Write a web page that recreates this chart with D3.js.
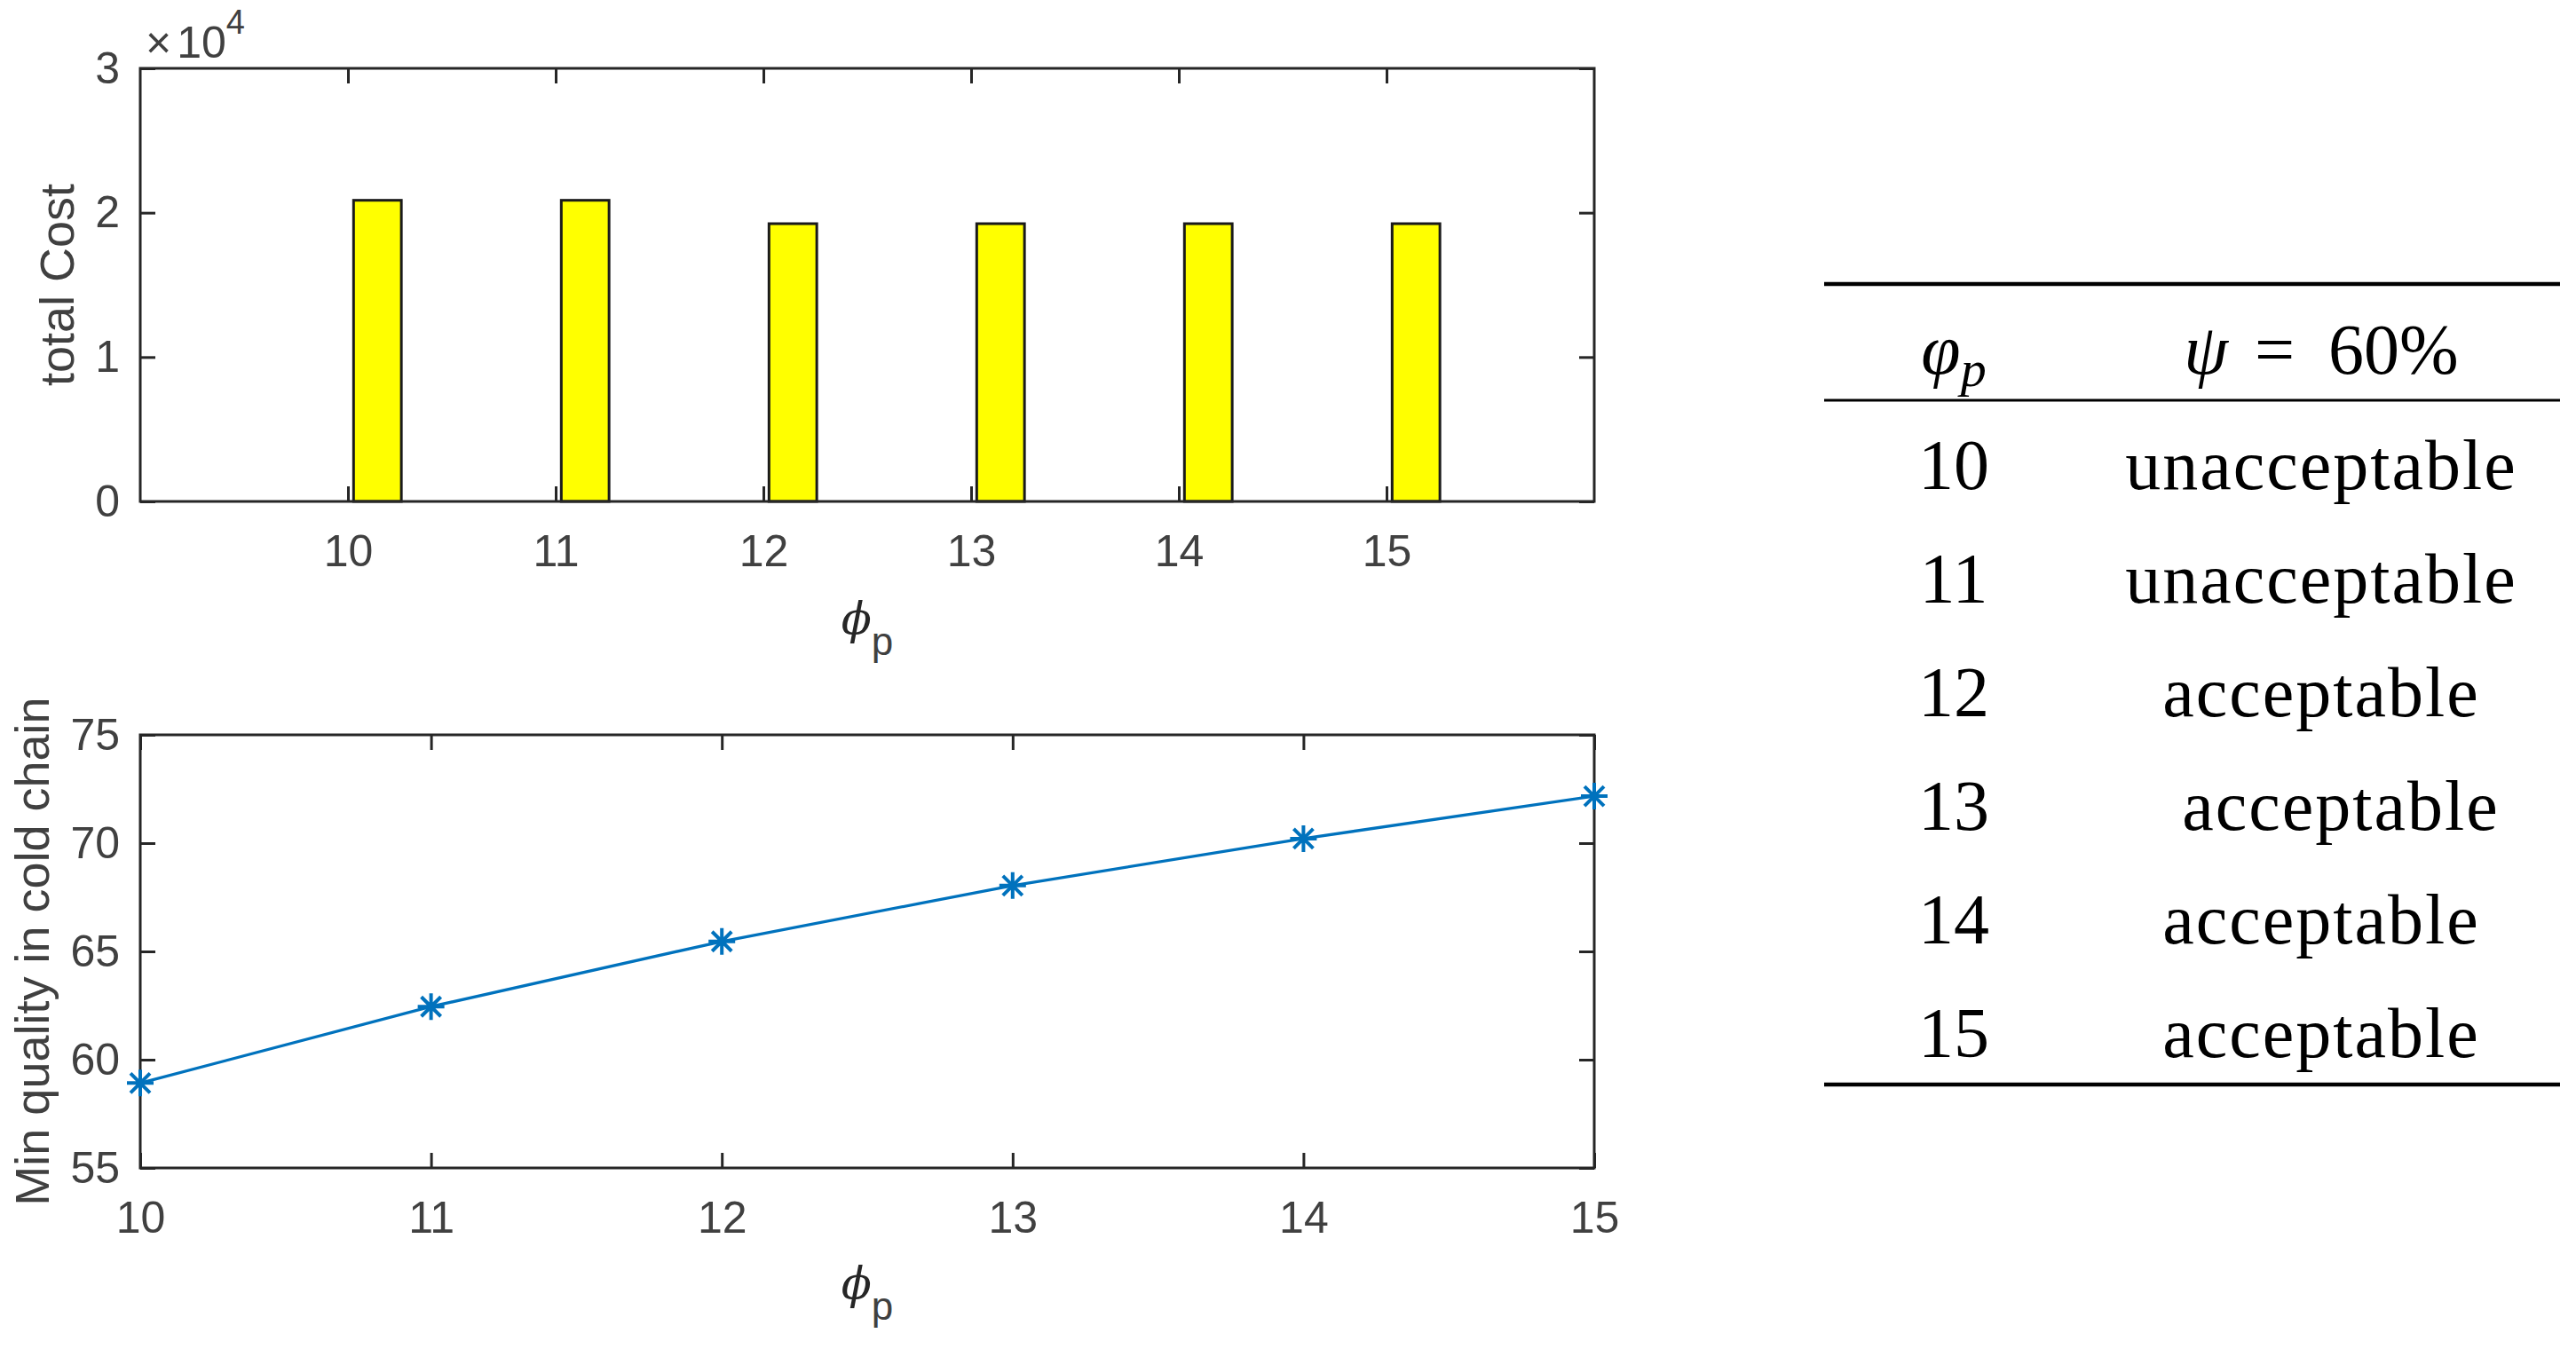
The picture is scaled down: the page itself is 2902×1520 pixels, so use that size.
<!DOCTYPE html>
<html>
<head>
<meta charset="utf-8">
<script src="https://cdn.jsdelivr.net/npm/d3@7"></script>
<style>
  body { margin: 0; background: #fff; }
  svg { display: block; }
  text { white-space: pre; }
</style>
</head>
<body>
<script>
// values
const phiP = [10, 11, 12, 13, 14, 15];
const totalCost = [20860, 20860, 19240, 19240, 19240, 19240];
const minQuality = [58.92, 62.45, 65.46, 68.04, 70.21, 72.17];
const costTicks = [0, 10000, 20000, 30000];
const qualityTicks = [55, 60, 65, 70, 75];
const verdicts = ["unacceptable", "unacceptable", "acceptable", "  acceptable", "acceptable", "acceptable"];

const W = 2902, H = 1520;
const axisColor = "#262626", labelColor = "#404040", blue = "#0072BD";
const sans = "'Liberation Sans', Arial, Helvetica, sans-serif";
const serif = "'Liberation Serif', 'Times New Roman', serif";
const tickLen = 17;
// bar placement inside each unit (matlab grouped bar look)
const barStart = 0.027, barW = 0.23;

const svg = d3.select("body").append("svg")
  .attr("width", W)
  .attr("height", H);

// box with inward ticks on all four sides, labels on bottom/left
function drawBox(g, x, y, yTicks, yFormat) {
  const [x0, x1] = x.range(), [y0, y1] = y.range();
  g.append("g").attr("transform", `translate(0,${y0})`)
    .call(d3.axisBottom(x).tickValues(phiP).tickFormat(d3.format("d"))
      .tickSizeInner(-tickLen).tickSizeOuter(0).tickPadding(37));
  g.append("g").attr("transform", `translate(0,${y1})`)
    .call(d3.axisTop(x).tickValues(phiP).tickFormat("")
      .tickSizeInner(-tickLen).tickSizeOuter(0));
  g.append("g").attr("transform", `translate(${x0},0)`)
    .call(d3.axisLeft(y).tickValues(yTicks).tickFormat(yFormat)
      .tickSizeInner(-tickLen).tickSizeOuter(0).tickPadding(23));
  g.append("g").attr("transform", `translate(${x1},0)`)
    .call(d3.axisRight(y).tickValues(yTicks).tickFormat("")
      .tickSizeInner(-tickLen).tickSizeOuter(0));
  g.selectAll(".domain").remove();
  g.selectAll(".tick line").attr("stroke", axisColor).attr("stroke-width", 3);
  g.selectAll(".tick text")
    .attr("fill", labelColor)
    .attr("font-size", 50)
    .attr("font-family", sans);
  g.append("rect")
    .attr("x", x0).attr("y", y1)
    .attr("width", x1 - x0).attr("height", y0 - y1)
    .attr("fill", "none")
    .attr("stroke", axisColor)
    .attr("stroke-width", 3);
}

function xLabel(g, cx, baseY) {
  const t = g.append("text")
    .attr("x", cx).attr("y", baseY)
    .attr("text-anchor", "middle");
  t.append("tspan")
    .attr("font-family", "'DejaVu Serif', serif")
    .attr("font-style", "italic")
    .attr("font-size", 50)
    .attr("fill", axisColor)
    .text("\u03D5");
  t.append("tspan")
    .attr("font-family", sans)
    .attr("font-size", 44)
    .attr("fill", labelColor)
    .attr("dy", 24)
    .text("p");
}

function yLabel(g, baseX, cy, label) {
  g.append("text")
    .attr("transform", `translate(${baseX},${cy}) rotate(-90)`)
    .attr("text-anchor", "middle")
    .attr("font-family", sans)
    .attr("font-size", 54)
    .attr("fill", labelColor)
    .text(label);
}

// ---- top panel: total cost bars
const x1 = d3.scaleLinear().domain([9, 16]).range([158, 1796]);
const y1 = d3.scaleLinear().domain([0, 30000]).range([565, 77]);
const g1 = svg.append("g");

g1.selectAll("rect.bar")
  .data(phiP.map((p, i) => ({p, v: totalCost[i]})))
  .join("rect")
  .attr("class", "bar")
  .attr("x", d => x1(d.p + barStart))
  .attr("width", x1(barW) - x1(0))
  .attr("y", d => y1(d.v))
  .attr("height", d => y1(0) - y1(d.v))
  .attr("fill", "#ffff00")
  .attr("stroke", "#1a1a1a")
  .attr("stroke-width", 3);

drawBox(g1, x1, y1, costTicks, d => d / 1e4);

const mult = g1.append("text")
  .attr("x", 164).attr("y", 65)
  .attr("font-family", sans)
  .attr("font-size", 50)
  .attr("fill", labelColor);
mult.append("tspan").text("\u00D7");
mult.append("tspan").attr("dx", 6).text("10");
mult.append("tspan").attr("font-size", 38).attr("dy", -27).text("4");

xLabel(g1, 977, 714);
yLabel(g1, 83, 321, "total Cost");

// ---- bottom panel: min quality line
const x2 = d3.scaleLinear().domain([10, 15]).range([158, 1796]);
const y2 = d3.scaleLinear().domain([55, 75]).range([1316, 828]);
const g2 = svg.append("g");

drawBox(g2, x2, y2, qualityTicks, d3.format("d"));

const pts = phiP.map((p, i) => [p, minQuality[i]]);
g2.append("path")
  .datum(pts)
  .attr("d", d3.line().x(d => x2(d[0])).y(d => y2(d[1])))
  .attr("fill", "none")
  .attr("stroke", blue)
  .attr("stroke-width", 3.3);

g2.selectAll("path.star")
  .data(pts)
  .join("path")
  .attr("class", "star")
  .attr("transform", d => `translate(${x2(d[0])},${y2(d[1])})`)
  .attr("d", "M-15,0H15M0,-15V15M-11,-11L11,11M-11,11L11,-11")
  .attr("stroke", blue)
  .attr("stroke-width", 4)
  .attr("fill", "none");

xLabel(g2, 977, 1463);
yLabel(g2, 55, 1072, "Min quality in cold chain");

// ---- table on the right
const tab = svg.append("g").attr("font-family", serif).attr("fill", "#000");
const col1 = 2201, col2 = 2615;
const rowY = d3.scalePoint().domain(phiP).range([551, 1191]);

tab.append("line").attr("x1", 2055).attr("x2", 2884).attr("y1", 320).attr("y2", 320)
  .attr("stroke", "#000").attr("stroke-width", 4.5);
tab.append("line").attr("x1", 2055).attr("x2", 2884).attr("y1", 451).attr("y2", 451)
  .attr("stroke", "#000").attr("stroke-width", 3);
tab.append("line").attr("x1", 2055).attr("x2", 2884).attr("y1", 1222).attr("y2", 1222)
  .attr("stroke", "#000").attr("stroke-width", 4.5);

const h1 = tab.append("text")
  .attr("x", col1).attr("y", 421)
  .attr("text-anchor", "middle")
  .attr("font-size", 80);
h1.append("tspan").attr("font-style", "italic").text("\u03C6");
h1.append("tspan").attr("font-style", "italic").attr("font-size", 58).attr("dy", 14).text("p");

const h2 = tab.append("text")
  .attr("x", col2).attr("y", 421)
  .attr("text-anchor", "middle")
  .attr("font-size", 80);
h2.append("tspan").attr("font-style", "italic").text("\u03C8");
h2.append("tspan").attr("dx", 30).text("=");
h2.append("tspan").attr("dx", 38).text("60%");

tab.selectAll("text.num")
  .data(phiP)
  .join("text")
  .attr("class", "num")
  .attr("x", col1)
  .attr("y", d => rowY(d))
  .attr("text-anchor", "middle")
  .attr("font-size", 80)
  .text(d => d);

tab.selectAll("text.verdict")
  .data(phiP.map((p, i) => ({p, s: verdicts[i]})))
  .join("text")
  .attr("class", "verdict")
  .attr("x", col2)
  .attr("y", d => rowY(d.p))
  .attr("text-anchor", "middle")
  .attr("font-size", 80)
  .attr("letter-spacing", 2)
  .text(d => d.s);
</script>
</body>
</html>
